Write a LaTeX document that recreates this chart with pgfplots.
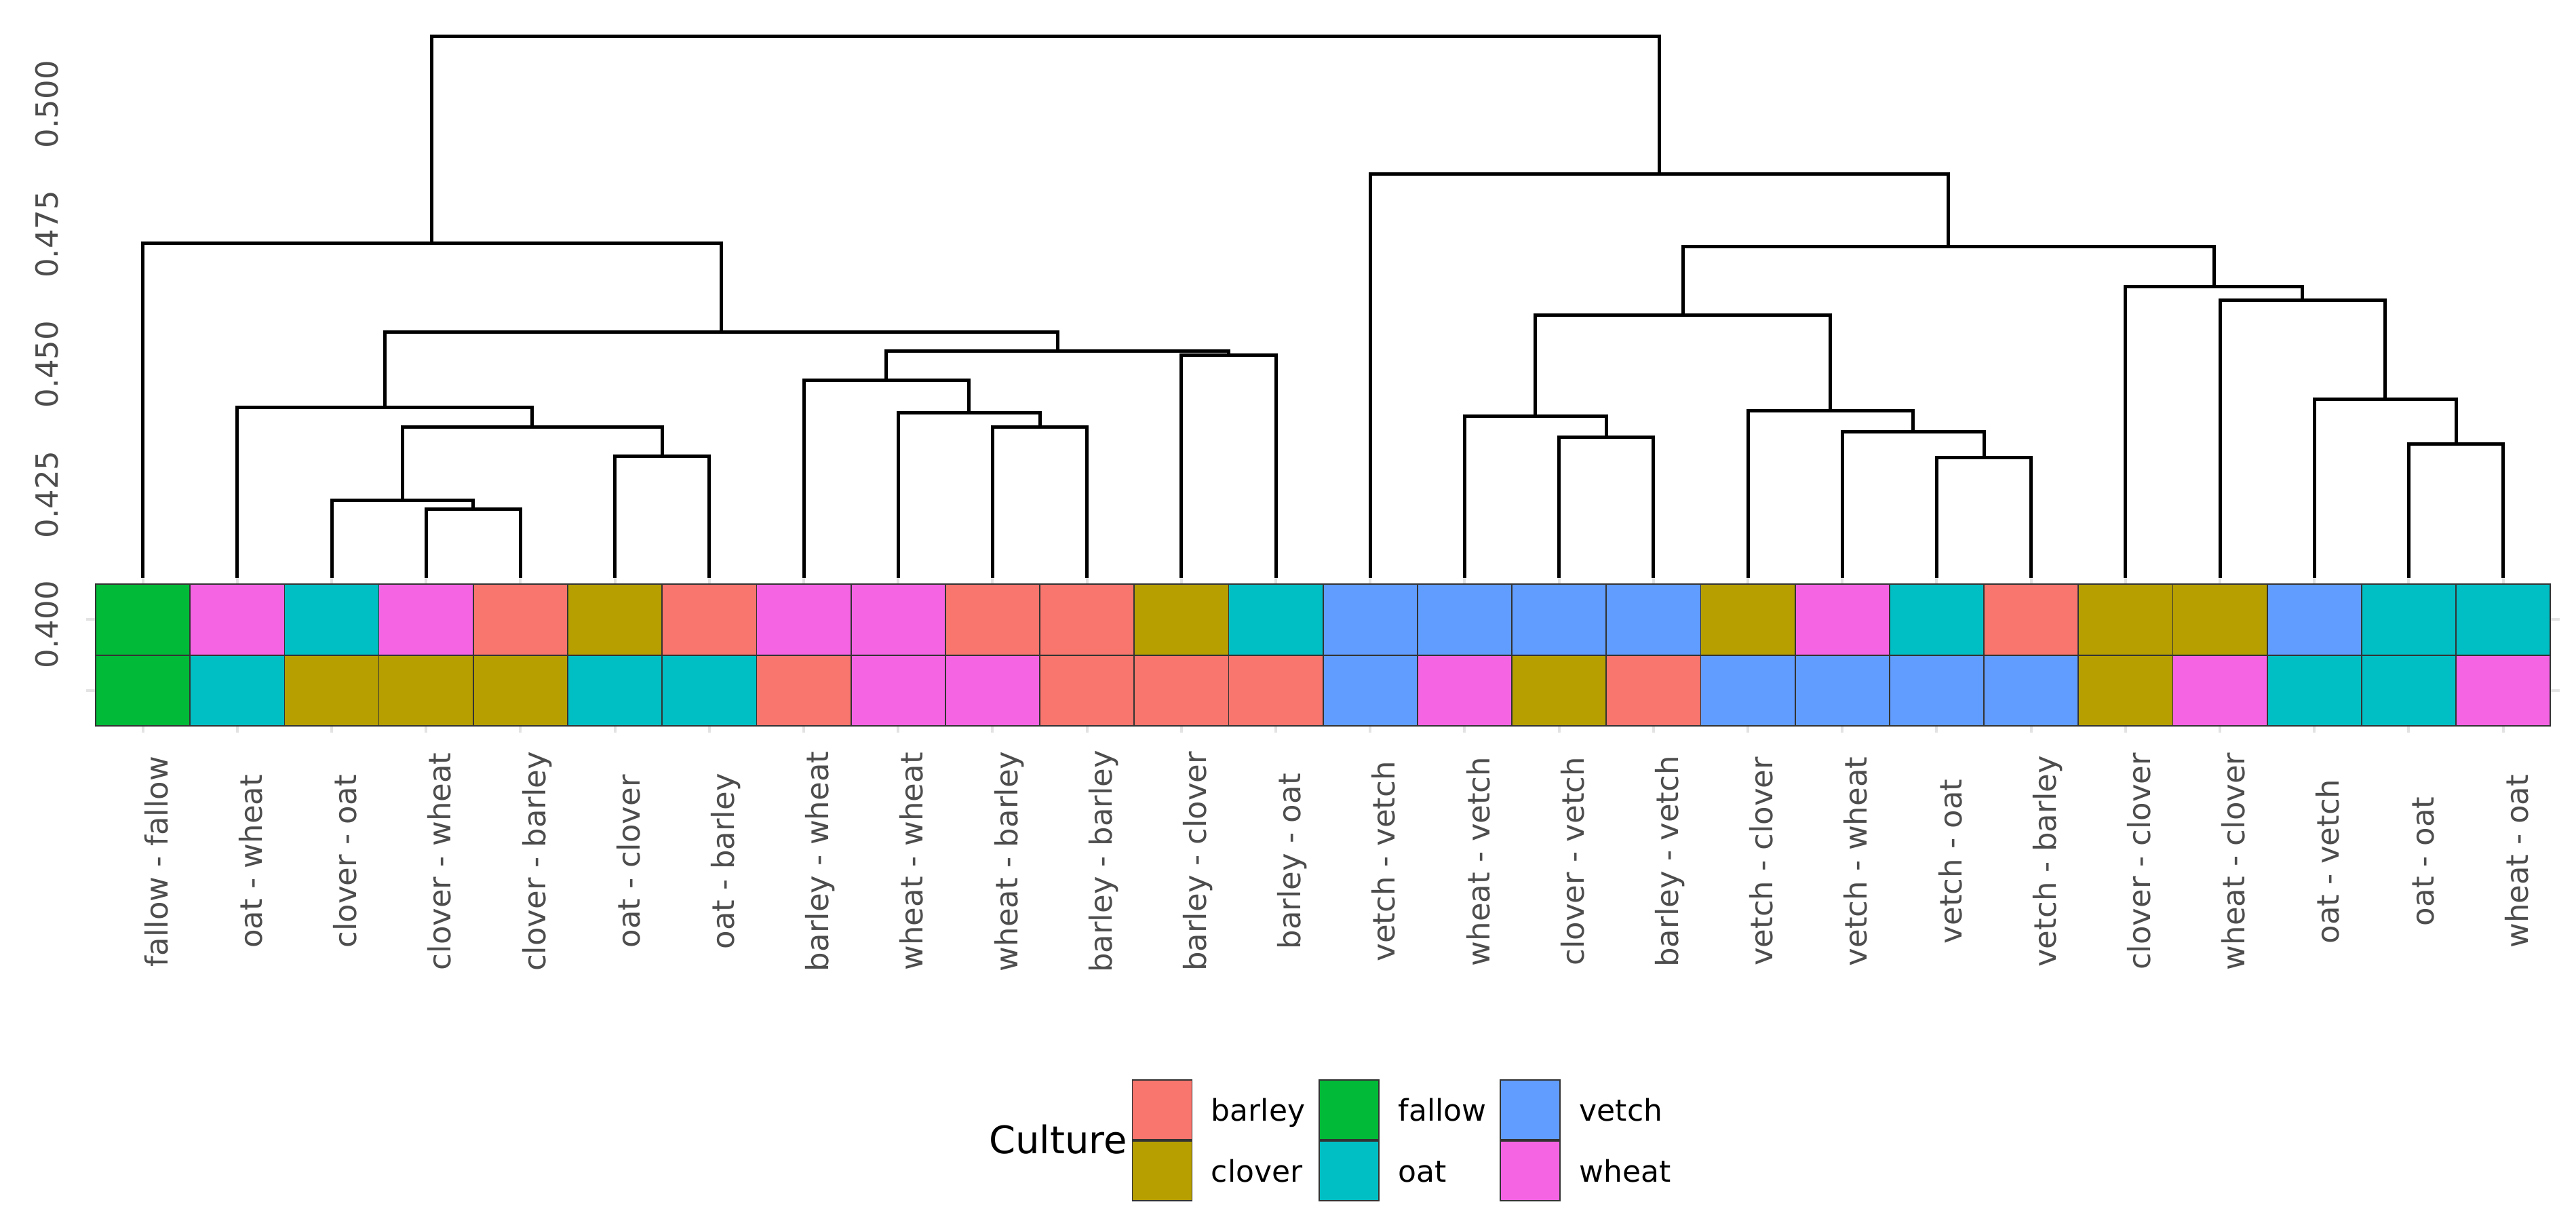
\documentclass[border=0pt]{standalone}
\usepackage{fontspec}
\setmainfont{DejaVu Sans}
\usepackage{pgfplots}
\pgfplotsset{compat=1.18}

% ggplot default hues
\definecolor{barley}{HTML}{F8766D}
\definecolor{clover}{HTML}{B79F00}
\definecolor{fallow}{HTML}{00BA38}
\definecolor{oat}{HTML}{00BFC4}
\definecolor{vetch}{HTML}{619CFF}
\definecolor{wheat}{HTML}{F564E3}
\definecolor{axisgray}{HTML}{4D4D4D}
\definecolor{gridgray}{HTML}{E3E3E3}

\pgfplotsset{
  tile/.style={only marks, mark=square*, mark size=10.45pt,
    mark options={fill=#1, draw=black!80, line width=0.35pt, xscale=1.3321}},
  seg/.style={black, line width=1pt, line join=miter, mark=none},
}

\begin{document}
\begin{tikzpicture}
% tile strip: top row = second crop, bottom row = first crop
\begin{axis}[name=tiles, scale only axis, width=729.4pt, height=45.97pt,
  xmin=0.4, xmax=26.6, ymin=0.37917, ymax=0.40914,
  axis line style={draw=none}, major tick length=0pt,
  xtick={1,...,26},
  xticklabels={fallow - fallow, oat - wheat, clover - oat, clover - wheat,
    clover - barley, oat - clover, oat - barley, barley - wheat, wheat - wheat,
    wheat - barley, barley - barley, barley - clover, barley - oat,
    vetch - vetch, wheat - vetch, clover - vetch, barley - vetch,
    vetch - clover, vetch - wheat, vetch - oat, vetch - barley,
    clover - clover, wheat - clover, oat - vetch, oat - oat, wheat - oat},
  ytick={0.38731,0.40094}, yticklabels={},
  xmajorgrids, ymajorgrids, grid style={gridgray, line width=0.8pt},
  xticklabel shift=37.9pt,
  xticklabel style={rotate=90, anchor=north, inner sep=0.3pt,
    text height=6.84pt, text depth=1.9pt,
    font=\fontsize{9}{10}\selectfont, text=axisgray},
]
\addplot[tile=barley] coordinates {(5,0.40094) (7,0.40094) (10,0.40094) (11,0.40094) (21,0.40094)
  (8,0.38731) (11,0.38731) (12,0.38731) (13,0.38731) (17,0.38731)};
\addplot[tile=clover] coordinates {(6,0.40094) (12,0.40094) (18,0.40094) (22,0.40094) (23,0.40094)
  (3,0.38731) (4,0.38731) (5,0.38731) (16,0.38731) (22,0.38731)};
\addplot[tile=fallow] coordinates {(1,0.40094) (1,0.38731)};
\addplot[tile=oat] coordinates {(3,0.40094) (13,0.40094) (20,0.40094) (25,0.40094) (26,0.40094)
  (2,0.38731) (6,0.38731) (7,0.38731) (24,0.38731) (25,0.38731)};
\addplot[tile=vetch] coordinates {(14,0.40094) (15,0.40094) (16,0.40094) (17,0.40094) (24,0.40094)
  (14,0.38731) (18,0.38731) (19,0.38731) (20,0.38731) (21,0.38731)};
\addplot[tile=wheat] coordinates {(2,0.40094) (4,0.40094) (8,0.40094) (9,0.40094) (19,0.40094)
  (9,0.38731) (10,0.38731) (15,0.38731) (23,0.38731) (26,0.38731)};
\end{axis}

% dendrogram
\begin{axis}[name=dend, at={(tiles.south west)}, anchor=south west,
  scale only axis, width=729.4pt, height=212.08pt, clip=false,
  xmin=0.4, xmax=26.6, ymin=0.37917, ymax=0.51743,
  axis line style={draw=none}, major tick length=0pt,
  xtick=\empty,
  ytick={0.4,0.425,0.45,0.475,0.5},
  yticklabels={0.400,0.425,0.450,0.475,0.500},
  yticklabel shift=8.2pt,
  yticklabel style={rotate=90, anchor=south, inner sep=0pt, text depth=0pt,
    font=\fontsize{9}{10}\selectfont, text=axisgray},
  legend image code/.code={\draw[#1] (0pt,-8.8pt) rectangle (17.6pt,8.8pt);
    \path[draw=none, fill=none] (17.6pt,0pt) -- (23.3pt,0pt);},
  legend columns=3,
  legend style={at={(0.42265,-0.48199)}, anchor=north west, draw=none, fill=none,
    inner sep=0pt, outer sep=0pt, row sep=0pt,
    font=\fontsize{8.8}{10}\selectfont, cells={anchor=west},
    nodes={inner sep=0pt, text height=6.42pt, text depth=0pt},
    /tikz/every even column/.append style={column sep=4pt}},
]
\addlegendimage{fill=barley, draw=black!80, line width=0.35pt}
\addlegendentry{barley}
\addlegendimage{fill=fallow, draw=black!80, line width=0.35pt}
\addlegendentry{fallow}
\addlegendimage{fill=vetch, draw=black!80, line width=0.35pt}
\addlegendentry{vetch}
\addlegendimage{fill=clover, draw=black!80, line width=0.35pt}
\addlegendentry{clover}
\addlegendimage{fill=oat, draw=black!80, line width=0.35pt}
\addlegendentry{oat}
\addlegendimage{fill=wheat, draw=black!80, line width=0.35pt}
\addlegendentry{wheat}

% left cluster
\addplot[seg] coordinates {(4,0.4090) (4,0.42219) (5,0.42219) (5,0.4090)};
\addplot[seg] coordinates {(3,0.4090) (3,0.42382) (4.5,0.42382) (4.5,0.42219)};
\addplot[seg] coordinates {(6,0.4090) (6,0.43229) (7,0.43229) (7,0.4090)};
\addplot[seg] coordinates {(3.75,0.42382) (3.75,0.43790) (6.5,0.43790) (6.5,0.43229)};
\addplot[seg] coordinates {(2,0.4090) (2,0.44168) (5.125,0.44168) (5.125,0.43790)};
\addplot[seg] coordinates {(10,0.4090) (10,0.43790) (11,0.43790) (11,0.4090)};
\addplot[seg] coordinates {(9,0.4090) (9,0.44069) (10.5,0.44069) (10.5,0.43790)};
\addplot[seg] coordinates {(8,0.4090) (8,0.44696) (9.75,0.44696) (9.75,0.44069)};
\addplot[seg] coordinates {(12,0.4090) (12,0.45180) (13,0.45180) (13,0.4090)};
\addplot[seg] coordinates {(8.875,0.44696) (8.875,0.45250) (12.5,0.45250) (12.5,0.45180)};
\addplot[seg] coordinates {(3.5625,0.44168) (3.5625,0.45615) (10.6875,0.45615) (10.6875,0.45250)};
\addplot[seg] coordinates {(1,0.4090) (1,0.47323) (7.125,0.47323) (7.125,0.45615)};
% right cluster
\addplot[seg] coordinates {(16,0.4090) (16,0.43595) (17,0.43595) (17,0.4090)};
\addplot[seg] coordinates {(15,0.4090) (15,0.43999) (16.5,0.43999) (16.5,0.43595)};
\addplot[seg] coordinates {(20,0.4090) (20,0.43203) (21,0.43203) (21,0.4090)};
\addplot[seg] coordinates {(19,0.4090) (19,0.43699) (20.5,0.43699) (20.5,0.43203)};
\addplot[seg] coordinates {(18,0.4090) (18,0.44103) (19.75,0.44103) (19.75,0.43699)};
\addplot[seg] coordinates {(15.75,0.43999) (15.75,0.45948) (18.875,0.45948) (18.875,0.44103)};
\addplot[seg] coordinates {(25,0.4090) (25,0.43464) (26,0.43464) (26,0.4090)};
\addplot[seg] coordinates {(24,0.4090) (24,0.44325) (25.5,0.44325) (25.5,0.43464)};
\addplot[seg] coordinates {(23,0.4090) (23,0.46235) (24.75,0.46235) (24.75,0.44325)};
\addplot[seg] coordinates {(22,0.4090) (22,0.46489) (23.875,0.46489) (23.875,0.46235)};
\addplot[seg] coordinates {(17.3125,0.45948) (17.3125,0.47265) (22.9375,0.47265) (22.9375,0.46489)};
\addplot[seg] coordinates {(14,0.4090) (14,0.48653) (20.125,0.48653) (20.125,0.47265)};
% root
\addplot[seg] coordinates {(4.0625,0.47323) (4.0625,0.51300) (17.0625,0.51300) (17.0625,0.48653)};

\node[anchor=east, inner sep=0pt, text height=8.16pt, text depth=0pt,
  font=\fontsize{11.2}{13}\selectfont] at (axis description cs:0.42114,-0.56545) {Culture};

\coordinate (bbSW) at (axis description cs:-0.03485,-0.67295);
\coordinate (bbNE) at (axis description cs:1.00655,1.01886);
\end{axis}
\path (bbSW) rectangle (bbNE);
\end{tikzpicture}
\end{document}
